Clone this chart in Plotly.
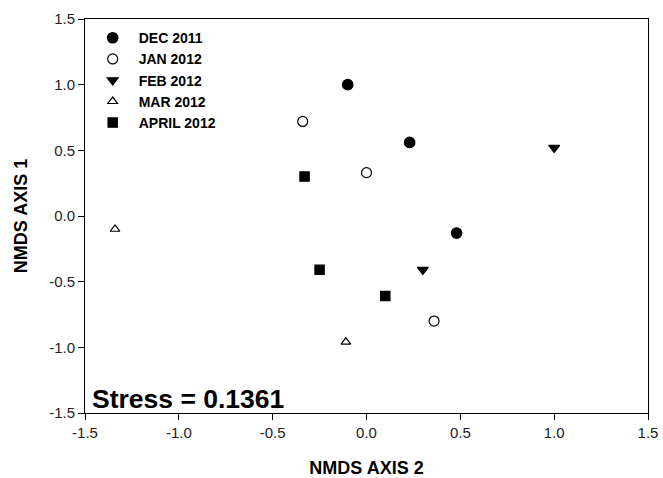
import plotly.graph_objects as go

# ---- data (NMDS axis 2 = x, NMDS axis 1 = y) ----
dec_x = [-0.10, 0.23, 0.48]
dec_y = [1.00, 0.56, -0.13]
jan_x = [-0.34, 0.00, 0.36]
jan_y = [0.72, 0.33, -0.80]
feb_x = [1.00, 0.30]
feb_y = [0.52, -0.41]
mar_x = [-1.34, -0.11]
mar_y = [-0.10, -0.96]
apr_x = [-0.33, -0.25, 0.10]
apr_y = [0.30, -0.41, -0.61]

series_names = ["DEC 2011", "JAN 2012", "FEB 2012", "MAR 2012", "APRIL 2012"]
tick_vals = [-1.5, -1.0, -0.5, 0.0, 0.5, 1.0, 1.5]
tick_text = ["-1.5", "-1.0", "-0.5", "0.0", "0.5", "1.0", "1.5"]
stress_label = "Stress = 0.1361"

FONT = "Liberation Sans, Arial, sans-serif"

fig = go.Figure()
styles = [
    (dec_x, dec_y, "circle", 10.5, "black"),
    (jan_x, jan_y, "circle", 10, "white"),
    (feb_x, feb_y, "triangle-down", 9.5, "black"),
    (mar_x, mar_y, "triangle-up", 8.5, "white"),
    (apr_x, apr_y, "square", 9.3, "black"),
]
for name, (xs, ys, sym, sz, fill) in zip(series_names, styles):
    fig.add_trace(go.Scatter(
        x=xs, y=ys, mode="markers", name="<b>" + name + "</b>",
        marker=dict(symbol=sym, size=sz, color=fill,
                    line=dict(color="black", width=1.2)),
    ))

axis_common = dict(
    range=[-1.5, 1.5], tickvals=tick_vals, ticktext=tick_text,
    showgrid=False, zeroline=False, showline=True, mirror=True,
    linecolor="black", linewidth=1, ticks="outside", ticklen=6,
    tickcolor="black", tickwidth=1,
    tickfont=dict(family=FONT, size=15, color="#222"),
)
fig.update_xaxes(**axis_common,
                 title=dict(text="<b>NMDS AXIS 2</b>", standoff=24,
                            font=dict(family=FONT, size=18, color="black")))
fig.update_yaxes(**axis_common,
                 title=dict(text="<b>NMDS AXIS 1</b>", standoff=16,
                            font=dict(family=FONT, size=18, color="black")))

fig.add_annotation(
    text="<b>" + stress_label + "</b>", xref="paper", yref="paper",
    x=0.008, y=0.0, xanchor="left", yanchor="bottom", showarrow=False,
    yshift=-3,
    font=dict(family=FONT, size=26.5, color="black"),
)

fig.update_layout(
    width=663, height=478,
    margin=dict(l=85, r=15, t=19, b=65, autoexpand=False),
    plot_bgcolor="white", paper_bgcolor="white",
    showlegend=True,
    legend=dict(
        x=0.003, y=0.992, xanchor="left", yanchor="top",
        bgcolor="rgba(0,0,0,0)", borderwidth=0,
        font=dict(family=FONT, size=14, color="black"),
        itemwidth=42, tracegroupgap=0,
    ),
    font=dict(family=FONT),
)

fig.write_html("out.html")
